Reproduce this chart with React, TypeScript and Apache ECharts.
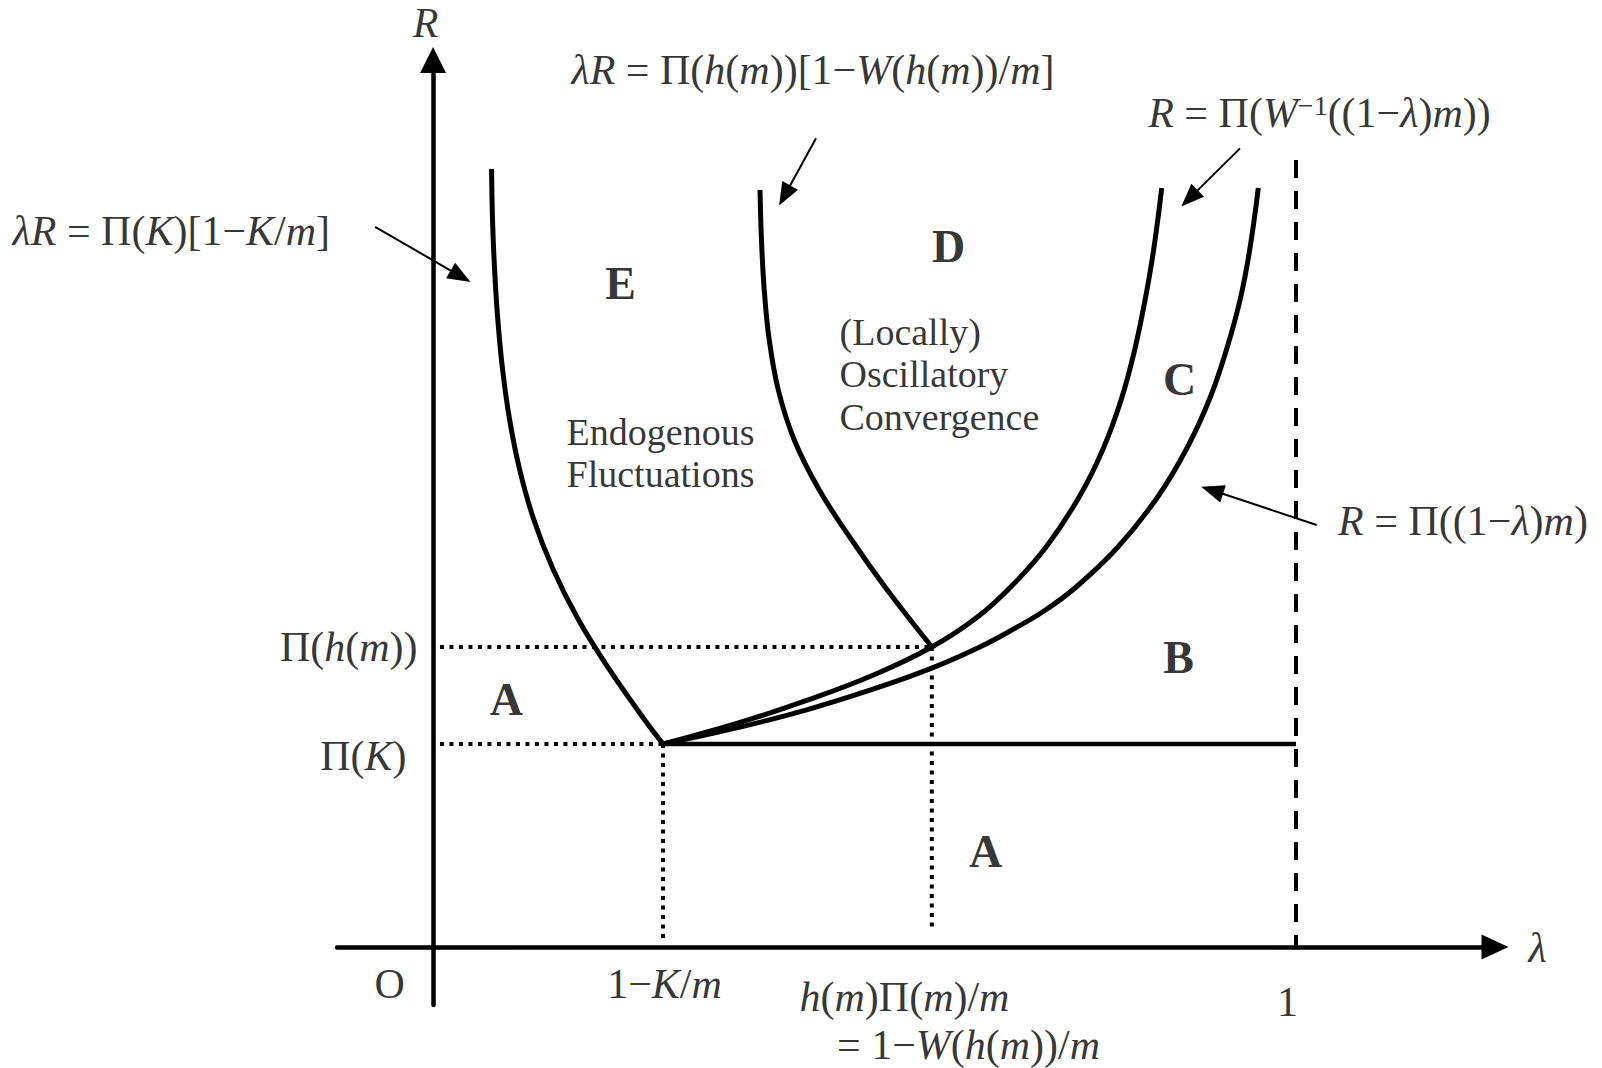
import React, { useEffect, useRef } from "react";
import * as echarts from "echarts";

// ---- axis ranges (λ horizontal, R vertical; Π(K) = 1 unit on R) ----
const lambdaMin = -0.1113;
const lambdaMax = 1.2306;
const rMin = -0.2857;
const rMax = 4.3695;

const piK = 1;
const piH = 1.478;
const kinkLambda = 0.2665;
const hLambda = 0.578;

// ---- curves ----
const curveLeft = [
  [0.0678, 3.8325], [0.0689, 3.5862], [0.0713, 3.3399], [0.075, 3.0936], [0.0805, 2.8473],
  [0.0886, 2.601], [0.1002, 2.3547], [0.1165, 2.1084], [0.139, 1.8621], [0.168, 1.6158],
  [0.2039, 1.3695], [0.2445, 1.1232], [0.2665, 1.0],
];
const curveMiddle = [
  [0.3789, 3.7291], [0.3806, 3.4828], [0.3838, 3.2365], [0.3896, 2.9901], [0.4001, 2.7438],
  [0.4186, 2.4975], [0.4476, 2.2512], [0.4852, 2.0049], [0.5264, 1.7586], [0.578, 1.478],
];
const curveUpper = [
  [0.2665, 1.0], [0.3557, 1.1064], [0.433, 1.2148], [0.5098, 1.3389], [0.578, 1.478],
  [0.6309, 1.6256], [0.6717, 1.7833], [0.7104, 1.9704], [0.7487, 2.2167], [0.7759, 2.4483],
  [0.7973, 2.6946], [0.813, 2.9409], [0.8251, 3.1872], [0.835, 3.4335], [0.8444, 3.7389],
];
const curveLower = [
  [0.2665, 1.0], [0.3557, 1.0833], [0.433, 1.1685], [0.5098, 1.27], [0.5779, 1.3739],
  [0.633, 1.4768], [0.6709, 1.5621], [0.708, 1.6552], [0.7439, 1.7685], [0.7926, 1.9655],
  [0.8389, 2.2118], [0.8737, 2.4581], [0.9003, 2.7044], [0.92, 2.9507], [0.9357, 3.197],
  [0.9467, 3.4433], [0.9563, 3.7389],
];
const floorLine = [[kinkLambda, piK], [1, piK]];
const dashedOne = [[1, 3.877], [1, 0]];
const dotPiK = [[0.008, piK], [kinkLambda, piK]];
const dotPiH = [[0.008, piH], [hLambda, piH]];
const dotKink = [[kinkLambda, piK], [kinkLambda, 0.025]];
const dotH = [[hLambda, piH], [hLambda, 0.079]];

// ---- pointer arrows [from, to] ----
const arrowLeft = [[-0.0672, 3.548], [0.0319, 3.304]];
const arrowMid = [[0.4438, 3.984], [0.4074, 3.702]];
const arrowUpper = [[0.9351, 3.934], [0.8766, 3.688]];
const arrowLower = [[1.024, 2.079], [0.9028, 2.25]];

// ---- texts ----
const mathTexts = [
  "{i|λR} = Π({i|K})[1−{i|K}/{i|m}]",
  "{i|λR} = Π({i|h}({i|m}))[1−{i|W}({i|h}({i|m}))/{i|m}]",
  "{i|R} = Π({i|W}{sup|−1}((1−{i|λ}){i|m}))",
  "{i|R} = Π((1−{i|λ}){i|m})",
  "{i|R}",
  "{i|λ}",
  "O",
  "1−{i|K}/{i|m}",
  "{i|h}({i|m})Π({i|m})/{i|m}",
  "= 1−{i|W}({i|h}({i|m}))/{i|m}",
  "1",
  "Π({i|h}({i|m}))",
  "Π({i|K})",
];
const mathAnchors = [
  [-0.4867, 3.527], [0.4409, 4.32], [1.0278, 4.108], [1.1941, 2.094],
  [-0.0081, 4.549], [1.2804, -0.005], [-0.0498, -0.187], [0.2688, -0.187],
  [0.5469, -0.251], [0.6211, -0.483], [0.9907, -0.271], [-0.0174, 1.473], [-0.0301, 0.936],
];
const mathAlign = [
  "left", "center", "center", "center", "center", "center", "center", "center",
  "center", "center", "center", "right", "right",
];

const regionTexts = ["A", "A", "B", "C", "D", "E"];
const regionAnchors = [
  [0.0854, 1.217], [0.6408, 0.469], [0.8644, 1.424], [0.8656, 2.793], [0.5979, 3.45], [0.2178, 3.266],
];

const proseTexts = ["(Locally)\nOscillatory\nConvergence", "Endogenous\nFluctuations"];
const proseAnchors = [[0.4716, 2.82], [0.1553, 2.432]];

const FONT = "'Liberation Serif', 'Times New Roman', serif";
const MATH_SIZE = 42;

export default function App() {
  const ref = useRef<HTMLDivElement>(null);

  useEffect(() => {
    if (!ref.current) return;
    const chart = echarts.init(ref.current, null, { renderer: "svg" });

    const solid = (data: number[][], width = 5) => ({
      type: "line",
      data,
      showSymbol: false,
      symbol: "none",
      smooth: 0.4,
      silent: true,
      lineStyle: { color: "#000", width, cap: "butt" },
    });
    const styled = (data: number[][], type: number[], width: number) => ({
      type: "line",
      data,
      showSymbol: false,
      symbol: "none",
      silent: true,
      lineStyle: { color: "#000", width, type, cap: "butt" },
    });

    const rich = {
      i: { fontFamily: FONT, fontStyle: "italic", fontSize: MATH_SIZE, color: "#000" },
      sup: { fontFamily: FONT, fontSize: 28, color: "#000", verticalAlign: "top" },
    };

    const labelData = [
      ...mathTexts.map((t, k) => ({
        value: mathAnchors[k],
        label: { formatter: () => t, align: mathAlign[k], fontSize: MATH_SIZE },
      })),
      ...regionTexts.map((t, k) => ({
        value: regionAnchors[k],
        label: { formatter: () => t, align: "center", fontSize: 46, fontWeight: "bold" },
      })),
      ...proseTexts.map((t, k) => ({
        value: proseAnchors[k],
        label: { formatter: () => t, align: "left", fontSize: 38, lineHeight: 42.5 },
      })),
    ];

    chart.setOption({
      animation: false,
      backgroundColor: "#fff",
      grid: { left: 337, right: 107, top: 60, bottom: 63, containLabel: false },
      xAxis: {
        type: "value",
        min: lambdaMin,
        max: lambdaMax,
        axisLine: {
          show: true,
          onZero: true,
          symbol: ["none", "triangle"],
          symbolSize: [25, 27],
          lineStyle: { color: "#000", width: 4.5 },
        },
        axisTick: { show: false },
        axisLabel: { show: false },
        splitLine: { show: false },
      },
      yAxis: {
        type: "value",
        min: rMin,
        max: rMax,
        axisLine: {
          show: true,
          onZero: true,
          symbol: ["none", "triangle"],
          symbolSize: [26, 26],
          lineStyle: { color: "#000", width: 4.5 },
        },
        axisTick: { show: false },
        axisLabel: { show: false },
        splitLine: { show: false },
      },
      series: [
        solid(curveLeft),
        solid(curveMiddle),
        solid(curveUpper),
        solid(curveLower),
        { ...solid(floorLine, 4.5), smooth: false },
        styled(dashedOne, [18, 13], 4),
        styled(dotPiK, [4, 5.5], 4),
        styled(dotPiH, [4, 5.5], 4),
        styled(dotKink, [4, 5.5], 4),
        styled(dotH, [4, 5.5], 4),
        {
          type: "lines",
          coordinateSystem: "cartesian2d",
          silent: true,
          symbol: ["none", "triangle"],
          symbolSize: [1, [18, 23]],
          lineStyle: { color: "#000", width: 2, opacity: 1, curveness: 0 },
          data: [arrowLeft, arrowMid, arrowUpper, arrowLower].map((c) => ({ coords: c })),
        },
        {
          type: "scatter",
          symbolSize: 1,
          clip: false,
          silent: true,
          itemStyle: { color: "rgba(0,0,0,0)" },
          label: {
            show: true,
            position: [0, 0],
            verticalAlign: "middle",
            color: "#000",
            fontFamily: FONT,
            rich,
          },
          data: labelData,
        },
      ],
    });

    return () => chart.dispose();
  }, []);

  return (
    <div
      ref={ref}
      style={{ position: "fixed", left: 0, top: 0, width: 1602, height: 1068, background: "#fff" }}
    />
  );
}
